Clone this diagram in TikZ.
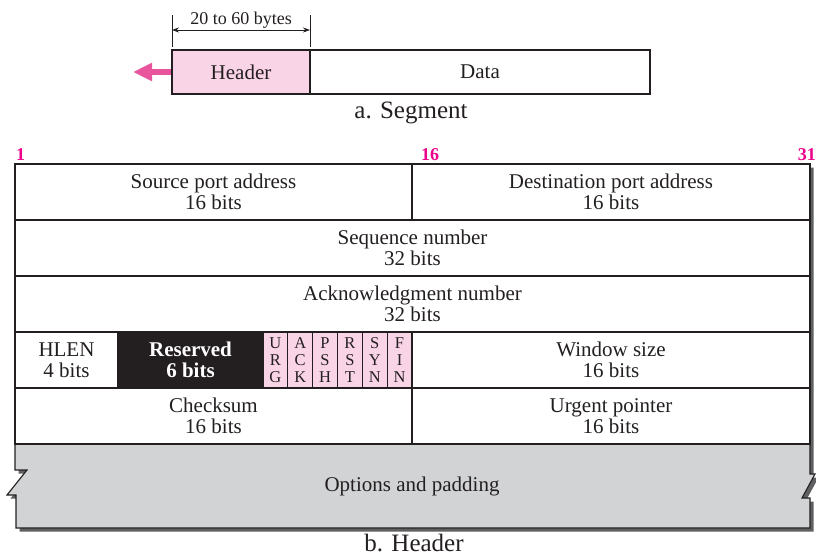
\documentclass[tikz,border=0pt]{standalone}
\usepackage{fontspec}
\setmainfont{Liberation Serif}
\usetikzlibrary{positioning, arrows.meta}

\definecolor{ink}{HTML}{231F20}
\definecolor{hdrpink}{HTML}{F9D3E6}
\definecolor{arrpink}{HTML}{E8559C}
\definecolor{bitmag}{HTML}{EC008C}
\definecolor{optgray}{HTML}{D1D3D4}
\definecolor{shadowgray}{HTML}{5F6062}

\begin{document}
\begin{tikzpicture}[
    x=1pt, y=-1pt,
    >={Stealth[length=7pt, width=5pt]},
    cell/.style={draw=ink, line width=1.1pt, fill=white, inner sep=0pt, outer sep=0pt,
      minimum height=56pt, align=center, text=ink, font=\fontsize{21}{21}\selectfont},
    half/.style={cell, minimum width=397pt},
    full/.style={cell, minimum width=795pt},
    flag/.style={cell, fill=hdrpink, line width=0.8pt, minimum width=24.83pt,
      font=\fontsize{16.5}{17}\selectfont},
    bitno/.style={text=bitmag, font=\fontsize{18}{18}\selectfont\bfseries, inner sep=0pt},
    caption/.style={text=ink, font=\fontsize{25}{25}\selectfont, inner sep=0pt, anchor=base}
  ]
  \useasboundingbox (0,0) rectangle (816,559);

  % 报文段
  \node[cell, fill=hdrpink, minimum width=138pt, minimum height=44pt, anchor=north west]
        (seghdr) at (172,50) {Header};
  \node[cell, minimum width=340pt, minimum height=44pt] (data) [right=0pt of seghdr] {Data};

  % 长度标注
  \coordinate (dimL) at (172,30);
  \coordinate (dimR) at (310,30);
  \draw[ink, line width=0.8pt] ([yshift=3pt]seghdr.north west) -- ++(0,-32);
  \draw[ink, line width=0.8pt] ([yshift=3pt]seghdr.north east) -- ++(0,-32);
  \draw[ink, line width=0.8pt, <->] (dimL) -- (dimR)
        node[midway, above=1pt, inner sep=0pt, font=\fontsize{18}{18}\selectfont] {20 to 60 bytes};

  % 粉色箭头
  \coordinate (arrtip) at (133,72);
  \draw[arrpink, line width=6pt, -{Triangle[length=19pt, width=17pt]}]
        ([xshift=-0.6pt]seghdr.west) -- (arrtip);

  \node[caption] (capa) at (411,119) {a. Segment};

  % 首部阴影
  \fill[shadowgray, shift={(3.5,3.5)}] (15,164) -- (810,164) -- (810,474) -- (815,474)
        -- (802,498) -- (810,498) -- (810,528) -- (16,528) -- (16,495) -- (7,495)
        -- (27,470) -- (15,470) -- cycle;

  % 选项和填充
  \draw[ink, line width=1.1pt, fill=optgray] (15,444) -- (810,444) -- (810,474) -- (815,474)
        -- (802,498) -- (810,498) -- (810,528) -- (16,528) -- (16,495) -- (7,495)
        -- (27,470) -- (15,470) -- cycle;
  \node[text=ink, font=\fontsize{21}{21}\selectfont] (opt) at (412,486) {Options and padding};

  % 首部各字段
  \node[half, anchor=north west] (src) at (15,164) {Source port address\\16 bits};
  \node[half, minimum width=398pt] (dst) [right=0pt of src] {Destination port address\\16 bits};
  \node[full] (seq) [below=0pt of src.south west, anchor=north west] {Sequence number\\32 bits};
  \node[full] (ackn) [below=0pt of seq.south west, anchor=north west] {Acknowledgment number\\32 bits};
  \node[cell, minimum width=103pt] (hlen) [below=0pt of ackn.south west, anchor=north west] {HLEN\\4 bits};
  \node[cell, fill=ink, text=white, font=\fontsize{21}{21}\selectfont\bfseries, minimum width=145pt]
        (resv) [right=0pt of hlen] {Reserved\\6 bits};
  \node[flag] (furg) [right=0pt of resv] {U\\R\\G};
  \node[flag] (fack) [right=0pt of furg] {A\\C\\K};
  \node[flag] (fpsh) [right=0pt of fack] {P\\S\\H};
  \node[flag] (frst) [right=0pt of fpsh] {R\\S\\T};
  \node[flag] (fsyn) [right=0pt of frst] {S\\Y\\N};
  \node[flag] (ffin) [right=0pt of fsyn] {F\\I\\N};
  \node[half, minimum width=398pt] (win) [right=0pt of ffin] {Window size\\16 bits};
  \node[half] (cks) [below=0pt of hlen.south west, anchor=north west] {Checksum\\16 bits};
  \node[half, minimum width=398pt] (urgp) [right=0pt of cks] {Urgent pointer\\16 bits};

  % 位序号
  \node[bitno, anchor=base west] (b1) at (16,160) {1};
  \node[bitno, anchor=base west] (b16) at (421,160) {16};
  \node[bitno, anchor=base east] (b31) at (816,160) {31};

  \node[caption] (capb) at (414,551) {b. Header};

\end{tikzpicture}
\end{document}
